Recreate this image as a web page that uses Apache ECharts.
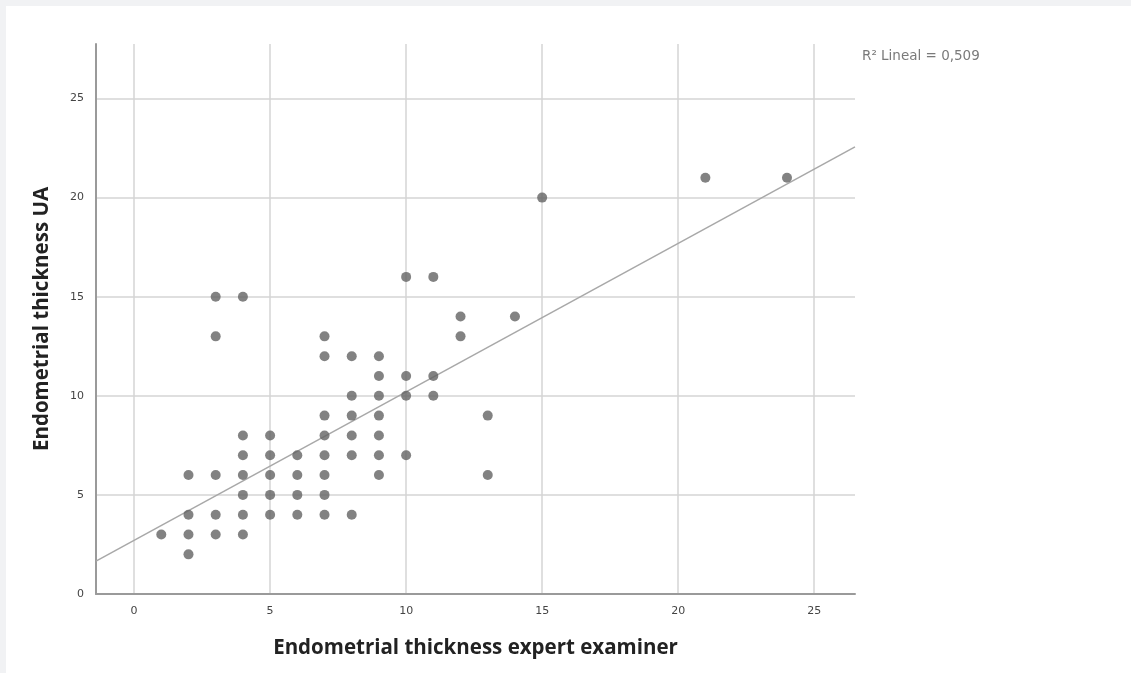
<!DOCTYPE html>
<html>
<head>
<meta charset="utf-8">
<script src="https://cdn.jsdelivr.net/npm/echarts@6/dist/echarts.min.js"></script>
<style>
  html, body { margin: 0; padding: 0; background: #f1f2f4; }
  #chart { position: absolute; left: 6px; top: 6px; width: 1125px; height: 667px; background: #ffffff; }
</style>
</head>
<body>
<div id="chart"></div>
<script>
// Scatter points: [expert examiner, UA]
const expertValues = [1, 2,2,2,2, 3,3,3,3,3, 4,4,4,4,4,4,4, 5,5,5,5,5, 6,6,6,6,
  7,7,7,7,7,7,7,7, 8,8,8,8,8,8, 9,9,9,9,9,9,9, 10,10,10,10, 11,11,11, 12,12, 13,13, 14, 15, 21, 24];
const uaValues = [3, 6,4,3,2, 15,13,6,4,3, 15,8,7,6,5,4,3, 8,7,6,5,4, 7,6,5,4,
  13,12,9,8,7,6,5,4, 12,10,9,8,7,4, 12,11,10,9,8,7,6, 16,11,10,7, 16,11,10, 14,13, 9,6, 14, 20, 21, 21];
// Fit line end points
const fitX = [-1.4, 26.5];
const fitY = [1.66, 22.56];
const xTicks = [0, 5, 10, 15, 20, 25];
const yTicks = [0, 5, 10, 15, 20, 25];
const xRange = [-1.4, 26.5];
const yRange = [0, 27.75];
const legendText = 'R\u00B2 Lineal = 0,509';
const xName = 'Endometrial thickness expert examiner';
const yName = 'Endometrial thickness UA';

const points = expertValues.map((x, i) => [x, uaValues[i]]);
const fitLine = fitX.map((x, i) => [x, fitY[i]]);

const chart = echarts.init(document.getElementById('chart'), null, { renderer: 'canvas' });
const tickFmt = (ticks) => (v) => (ticks.indexOf(Math.round(v * 1000) / 1000) >= 0 ? String(v) : '');

chart.setOption({
  animation: false,
  backgroundColor: '#ffffff',
  grid: { left: 90, right: 276, top: 38, bottom: 79, containLabel: false },
  xAxis: {
    type: 'value',
    min: xRange[0], max: xRange[1],
    minInterval: 5, maxInterval: 5,
    name: xName,
    nameLocation: 'middle',
    nameGap: 44,
    nameTextStyle: { fontFamily: 'Open Sans', fontWeight: 'bold', fontSize: 20.5, color: '#222' },
    axisLine: { show: true, onZero: false, lineStyle: { color: '#9a9a9a', width: 2 } },
    axisTick: { show: false },
    axisLabel: { formatter: tickFmt(xTicks), margin: 12, fontFamily: 'DejaVu Sans', fontSize: 11, color: '#444' },
    splitLine: { show: true, showMinLine: false, showMaxLine: false, lineStyle: { color: '#d4d4d4', width: 1.5 } }
  },
  yAxis: {
    type: 'value',
    min: yRange[0], max: yRange[1],
    interval: 5,
    name: yName,
    nameLocation: 'middle',
    nameGap: 43,
    nameTextStyle: { fontFamily: 'Open Sans', fontWeight: 'bold', fontSize: 20.5, color: '#222' },
    axisLine: { show: true, onZero: false, lineStyle: { color: '#9a9a9a', width: 2 } },
    axisTick: { show: false },
    axisLabel: { formatter: tickFmt(yTicks), margin: 12, fontFamily: 'DejaVu Sans', fontSize: 11, color: '#444' },
    splitLine: { show: true, showMinLine: false, showMaxLine: false, lineStyle: { color: '#d4d4d4', width: 1.5 } }
  },
  graphic: [{
    type: 'text',
    left: 856, top: 43,
    style: { text: legendText, fontFamily: 'DejaVu Sans', fontSize: 13.5, fill: '#7a7a7a' }
  }],
  series: [
    {
      type: 'line',
      data: fitLine,
      symbol: 'none',
      lineStyle: { color: '#a8a8a8', width: 1.5 },
      z: 2,
      silent: true
    },
    {
      type: 'scatter',
      data: points,
      symbol: 'circle',
      symbolSize: 10,
      itemStyle: { color: '#636363' },
      z: 3
    }
  ]
});
</script>
</body>
</html>
